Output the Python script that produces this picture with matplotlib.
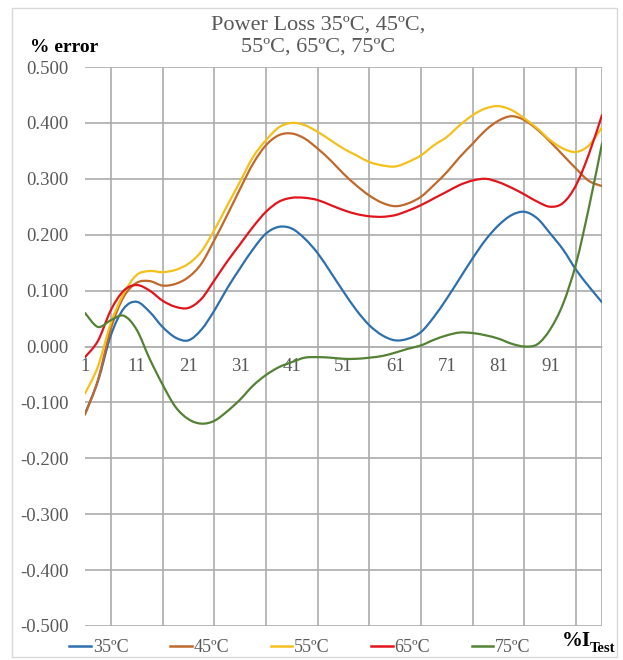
import matplotlib
matplotlib.use("Agg")
import matplotlib.pyplot as plt
from matplotlib.path import Path
from matplotlib.patches import PathPatch, Rectangle
from matplotlib.lines import Line2D
import numpy as np

plt.rcParams['font.family'] = ['Liberation Serif', 'DejaVu Serif']

# %I_Test positions
current_pct = [1, 3.5, 6, 8.5, 11, 13.5, 16, 18.5, 21, 23.5, 26, 28.5, 31, 33.5, 36,
               38.5, 41, 43.5, 46, 48.5, 51, 53.5, 56, 58.5, 61, 63.5, 66, 68.5, 71,
               73.5, 76, 78.5, 81, 83.5, 86, 88.5, 91, 93.5, 96, 98.5, 101]

err_35 = [-0.120, -0.062, 0.020, 0.068, 0.080, 0.062, 0.035, 0.016, 0.011, 0.030, 0.064,
          0.104, 0.140, 0.174, 0.202, 0.214, 0.211, 0.193, 0.167, 0.133, 0.098, 0.065,
          0.038, 0.020, 0.011, 0.014, 0.026, 0.053, 0.086, 0.122, 0.158, 0.191, 0.217,
          0.235, 0.241, 0.229, 0.202, 0.173, 0.137, 0.107, 0.079]
err_45 = [-0.122, -0.060, 0.032, 0.089, 0.114, 0.117, 0.109, 0.112, 0.124, 0.148, 0.190,
          0.235, 0.282, 0.327, 0.360, 0.378, 0.381, 0.372, 0.354, 0.333, 0.309, 0.288,
          0.270, 0.257, 0.251, 0.256, 0.268, 0.289, 0.312, 0.339, 0.363, 0.387, 0.404,
          0.412, 0.405, 0.388, 0.366, 0.342, 0.318, 0.296, 0.287]
err_55 = [-0.084, -0.036, 0.042, 0.095, 0.128, 0.135, 0.133, 0.137, 0.148, 0.170, 0.208,
          0.252, 0.295, 0.339, 0.369, 0.392, 0.400, 0.396, 0.384, 0.369, 0.354, 0.342,
          0.330, 0.324, 0.322, 0.330, 0.342, 0.360, 0.375, 0.396, 0.414, 0.426, 0.430,
          0.423, 0.408, 0.390, 0.369, 0.354, 0.348, 0.360, 0.392]
err_65 = [-0.019, 0.010, 0.065, 0.100, 0.110, 0.100, 0.082, 0.071, 0.069, 0.085, 0.118,
          0.152, 0.183, 0.214, 0.241, 0.259, 0.266, 0.266, 0.262, 0.253, 0.244, 0.237,
          0.233, 0.232, 0.235, 0.243, 0.253, 0.265, 0.277, 0.289, 0.297, 0.300, 0.294,
          0.284, 0.272, 0.259, 0.250, 0.257, 0.289, 0.345, 0.414]
err_75 = [0.060, 0.035, 0.047, 0.055, 0.030, -0.022, -0.068, -0.108, -0.130, -0.138, -0.133,
          -0.116, -0.095, -0.070, -0.051, -0.037, -0.028, -0.020, -0.019, -0.020, -0.022,
          -0.022, -0.020, -0.017, -0.011, -0.004, 0.002, 0.012, 0.020, 0.025, 0.024, 0.020,
          0.014, 0.005, 0.000, 0.004, 0.031, 0.077, 0.149, 0.250, 0.363]

series_labels = ['35ºC', '45ºC', '55ºC', '65ºC', '75ºC']
series_colors = ['#2e6fae', '#c0692b', '#f4c01c', '#e3151c', '#548235']

x_tick_labels = ['1', '11', '21', '31', '41', '51', '61', '71', '81', '91']
y_ticks = [-0.5, -0.4, -0.3, -0.2, -0.1, 0.0, 0.1, 0.2, 0.3, 0.4, 0.5]


def smooth_path(xs, ys):
    """Catmull-Rom style cubic Bezier path through the points (smoothed line)."""
    pts = np.column_stack([xs, ys]).astype(float)
    n = len(pts)
    verts = [pts[0]]
    codes = [Path.MOVETO]
    for i in range(n - 1):
        p0 = pts[i - 1] if i > 0 else pts[i]
        p1 = pts[i]
        p2 = pts[i + 1]
        p3 = pts[i + 2] if i + 2 < n else pts[i + 1]
        c1 = p1 + (p2 - p0) / 6.0
        c2 = p2 - (p3 - p1) / 6.0
        verts += [c1, c2, p2]
        codes += [Path.CURVE4] * 3
    return Path(verts, codes)


W, H = 623, 660
fig = plt.figure(figsize=(W / 100, H / 100), dpi=100)
fig.patch.set_facecolor('white')

# outer chart frame
fig.patches.append(Rectangle((12 / W, 3 / H), 605 / W, 649 / H, transform=fig.transFigure,
                             fill=False, edgecolor='#d9d9d9', linewidth=1.0))

ax = fig.add_axes([85 / W, 1 - 626 / H, 517 / W, 559 / H])
ax.set_xlim(1, 101)
ax.set_ylim(-0.5, 0.5)

grid_col = '#ababab'
ax.set_yticks(y_ticks)
ax.set_yticklabels([f'{v:.3f}' for v in y_ticks])
ax.set_xticks(list(range(1, 92, 10)))
ax.set_xticklabels(x_tick_labels)
ax.set_xticks(list(range(1, 102, 5)), minor=True)

ax.grid(axis='y', which='major', color=grid_col, linewidth=1.2)
ax.grid(axis='x', which='minor', color=grid_col, linewidth=1.2)
ax.grid(axis='x', which='major', visible=False)
ax.set_axisbelow(True)

for s in ['top', 'right', 'left']:
    ax.spines[s].set_visible(False)
ax.spines['bottom'].set_position(('data', 0))
ax.spines['bottom'].set_color('#d9d9d9')
ax.spines['bottom'].set_linewidth(1.2)
ax.spines['bottom'].set_zorder(0.5)

ax.tick_params(axis='y', length=0, pad=12, labelsize=13.5, labelcolor='#595959')
ax.tick_params(axis='x', which='both', length=0, pad=8, labelsize=13.5, labelcolor='#595959')

all_series = [err_35, err_45, err_55, err_65, err_75]
handles = []
for vals, lab, col in zip(all_series, series_labels, series_colors):
    patch = PathPatch(smooth_path(current_pct, vals), facecolor='none', edgecolor=col,
                      linewidth=1.6, capstyle='round', joinstyle='round', zorder=3)
    ax.add_patch(patch)
    handles.append(Line2D([], [], color=col, linewidth=1.8, label=lab))

fig.text(318 / W, 1 - 25 / H, 'Power Loss 35ºC, 45ºC,', ha='center', va='center',
         fontsize=16, color='#595959')
fig.text(318 / W, 1 - 47 / H, '55ºC, 65ºC, 75ºC', ha='center', va='center',
         fontsize=16, color='#595959')
fig.text(30 / W, 1 - 47 / H, '% error', ha='left', va='center', fontsize=14,
         fontweight='bold', color='black')

fig.text(562 / W, 1 - 641 / H, '%I', ha='left', va='center', fontsize=15,
         fontweight='bold', color='black')
fig.text(590 / W, 1 - 648 / H, 'Test', ha='left', va='center', fontsize=10.5,
         fontweight='bold', color='black')

leg = fig.legend(handles=handles, loc='center', bbox_to_anchor=(300 / W, 1 - 648 / H),
                 ncol=5, frameon=False, fontsize=13, handlelength=1.2,
                 handletextpad=0.1, columnspacing=2.3, borderpad=0)
for t in leg.get_texts():
    t.set_color('#595959')

fig.savefig('out.png', dpi=100, facecolor='white')
